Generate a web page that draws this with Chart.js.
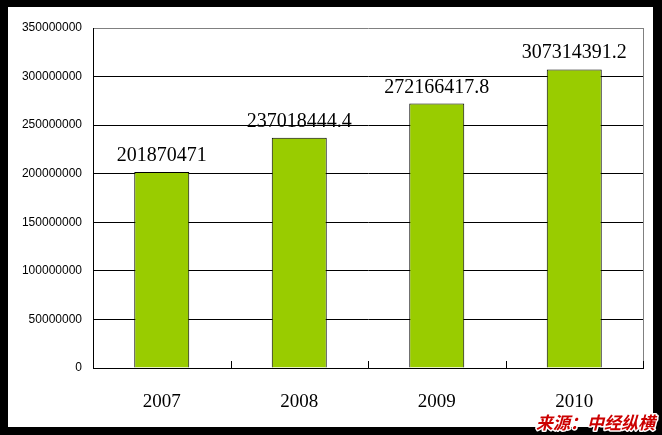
<!DOCTYPE html>
<html lang="zh-cn">

<head>
    <meta charset="UTF-8">
    <title>2007-2010</title>
    <script src="https://cdn.jsdelivr.net/npm/chart.js"></script>
    <style>
        body {
            margin: 0;
            background-color: #ffffff;
        }
    </style>
</head>

<body>
    <canvas id="grafico_barra" width="662" height="435"></canvas>
</body>

</html>

<script>
    // dados
    var anos = ["2007", "2008", "2009", "2010"];
    var valores = [201870471, 237018444.4, 272166417.8, 307314391.2];
    var eixoMin = 0;
    var eixoMax = 350000000;
    var eixoPasso = 50000000;
    var fonte = "来源：中经纵横";

    // moldura preta em volta de tudo
    var moldura = {
        id: "moldura",
        beforeDraw: function (chart) {
            var ctx = chart.ctx;
            ctx.save();
            ctx.fillStyle = "#000000";
            ctx.fillRect(0, 0, chart.width, chart.height);
            ctx.fillStyle = "#ffffff";
            ctx.fillRect(8, 7, chart.width - 17, chart.height - 15);
            ctx.restore();
        },
        afterDatasetsDraw: function (chart) {
            var ctx = chart.ctx;
            var area = chart.chartArea;
            var x = chart.scales.x;
            ctx.save();
            // borda direita cinza
            ctx.strokeStyle = "#808080";
            ctx.lineWidth = 1;
            ctx.beginPath();
            ctx.moveTo(Math.round(area.right) + 0.5, area.top);
            ctx.lineTo(Math.round(area.right) + 0.5, area.bottom);
            ctx.stroke();
            // tracinhos entre as categorias (para dentro)
            ctx.strokeStyle = "#000000";
            var passo = x.width / anos.length;
            for (var i = 1; i <= anos.length; i++) {
                var px = Math.round(x.left + passo * i) + 0.5;
                ctx.beginPath();
                ctx.moveTo(px, area.bottom - 7);
                ctx.lineTo(px, area.bottom);
                ctx.stroke();
            }
            // rotulos em cima das barras
            ctx.fillStyle = "#000000";
            ctx.font = '20px "Liberation Serif"';
            ctx.textAlign = "center";
            ctx.textBaseline = "alphabetic";
            var barras = chart.getDatasetMeta(0).data;
            for (var j = 0; j < barras.length; j++) {
                ctx.fillText(String(valores[j]), barras[j].x, barras[j].y - 11);
            }
            ctx.restore();
        },
        afterDraw: function (chart) {
            var ctx = chart.ctx;
            ctx.save();
            ctx.font = 'italic bold 17px "Noto Sans CJK SC"';
            ctx.textAlign = "right";
            ctx.textBaseline = "alphabetic";
            ctx.lineJoin = "round";
            ctx.lineWidth = 3;
            ctx.strokeStyle = "#ffffff";
            ctx.strokeText(fonte, 655, 429);
            ctx.fillStyle = "#cc0000";
            ctx.fillText(fonte, 655, 429);
            ctx.restore();
        }
    };

    var dados = {
        labels: anos,
        datasets: [
            {
                data: valores,
                backgroundColor: "#99cc00",
                borderColor: "#000000",
                borderWidth: 1,
                barPercentage: 0.4,
                categoryPercentage: 1.0
            }
        ]
    };

    var config = {
        type: "bar",
        data: dados,
        options: {
            responsive: false,
            animation: false,
            devicePixelRatio: 1,
            layout: {
                padding: { left: 0, right: 19, top: 28, bottom: 0 }
            },
            scales: {
                y: {
                    min: eixoMin,
                    max: eixoMax,
                    afterFit: function (scale) { scale.width = 93; },
                    border: { color: "#000000", width: 1 },
                    grid: {
                        drawTicks: false,
                        lineWidth: 1,
                        color: function (c) {
                            return c.tick && c.tick.value === eixoMax ? "#808080" : "#000000";
                        }
                    },
                    ticks: {
                        stepSize: eixoPasso,
                        padding: 11,
                        color: "#000000",
                        font: { family: "Liberation Sans", size: 12 },
                        callback: function (v) { return String(v); }
                    }
                },
                x: {
                    afterFit: function (scale) { scale.height = 67; },
                    border: { color: "#000000", width: 1 },
                    grid: { display: false, drawTicks: false },
                    ticks: {
                        padding: 23,
                        color: "#000000",
                        font: { family: "Liberation Serif", size: 19 }
                    }
                }
            },
            plugins: {
                legend: { display: false },
                tooltip: { enabled: false }
            }
        },
        plugins: [moldura]
    };

    var myChart = new Chart(document.getElementById("grafico_barra"), config);
</script>
